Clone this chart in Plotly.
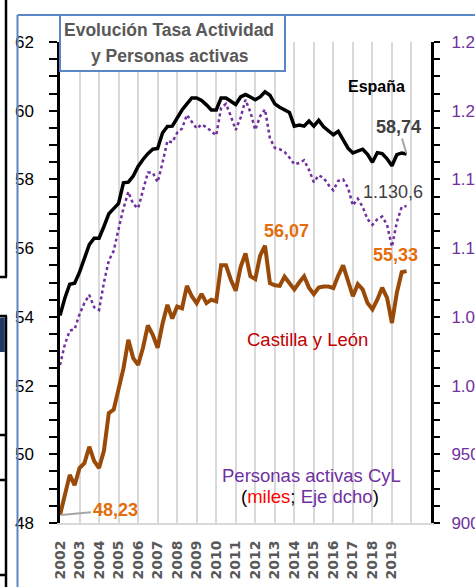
import plotly.graph_objects as go

# ---- data (quarterly, 2002Q1 .. 2019Q4) ----
years = [str(y) for y in range(2002, 2020)]
quarters = list(range(72))

espana = [54.04, 54.55, 54.95, 54.98, 55.30, 55.70, 56.10, 56.29, 56.29, 56.63,
          57.00, 57.15, 57.30, 57.90, 57.92, 58.10, 58.38, 58.58, 58.75, 58.88,
          58.90, 59.35, 59.54, 59.55, 59.80, 60.02, 60.20, 60.37, 60.37, 60.30,
          60.17, 60.02, 60.02, 60.37, 60.37, 60.27, 60.18, 60.40, 60.47, 60.40,
          60.32, 60.40, 60.55, 60.45, 60.20, 60.10, 60.03, 59.95, 59.55, 59.58,
          59.55, 59.70, 59.55, 59.72, 59.53, 59.43, 59.30, 59.40, 59.16, 58.91,
          58.77, 58.82, 58.88, 58.73, 58.50, 58.78, 58.75, 58.60, 58.40, 58.72,
          58.77, 58.74]

cyl = [48.23, 48.80, 49.40, 49.10, 49.60, 49.74, 50.22, 49.80, 49.60, 50.10,
       51.20, 51.30, 51.85, 52.50, 53.33, 52.80, 52.60, 53.10, 53.75, 53.48,
       53.10, 53.80, 54.35, 53.95, 54.30, 54.25, 54.90, 54.60, 54.40, 54.67,
       54.40, 54.50, 54.45, 55.50, 55.50, 55.08, 54.76, 55.45, 55.85, 55.18,
       55.10, 55.78, 56.07, 54.98, 54.92, 54.90, 55.17, 54.97, 54.80, 55.00,
       55.18, 54.85, 54.66, 54.85, 54.88, 54.88, 54.84, 55.20, 55.50, 55.05,
       54.60, 54.95, 54.80, 54.40, 54.22, 54.50, 54.85, 54.55, 53.82, 54.70,
       55.30, 55.33]

activos = [1015, 1030, 1040, 1041, 1052, 1060, 1066, 1057, 1055, 1075,
           1091, 1098, 1114, 1129, 1141, 1132, 1129, 1142, 1155, 1155,
           1148, 1162, 1178, 1177, 1184, 1187, 1197, 1192, 1187, 1190,
           1188, 1185, 1182, 1202, 1205, 1196, 1186, 1195, 1208, 1199,
           1186, 1196, 1201, 1180, 1173, 1172, 1170, 1166, 1161, 1162,
           1164, 1157, 1148, 1153, 1151, 1146, 1142, 1149, 1150, 1144,
           1131, 1136, 1130, 1121, 1117, 1121, 1123, 1117, 1101, 1119,
           1130, 1130.6]

left_ticks = [48, 50, 52, 54, 56, 58, 60, 62]
right_ticks = [900, 950, 1000, 1050, 1100, 1150, 1200, 1250]
grid_ticks = [50, 52, 54, 56, 58, 60]
x_tickvals = list(range(0, 77, 4))
x_ticktext = years + ["", ""]

# ---- layout geometry (pixels) ----
W, H = 475, 587
L, R, T, B = 60, 44, 42, 64
PW, PH = W - L - R, H - T - B


def px(xp):
    return (xp - L) / PW


def py(yp):
    return (H - B - yp) / PH


PURPLE = "#7030a0"
BROWN = "#9a4a08"
ORANGE = "#e46c0a"
GRAY_TXT = "#404040"
BLUE = "#5b86c5"
FONT = "Liberation Sans"

fig = go.Figure()

fig.add_trace(go.Scatter(x=quarters, y=espana, mode="lines", yaxis="y",
                         line=dict(color="black", width=3.5), hoverinfo="skip",
                         showlegend=False))
fig.add_trace(go.Scatter(x=quarters, y=cyl, mode="lines", yaxis="y",
                         line=dict(color=BROWN, width=4), hoverinfo="skip",
                         showlegend=False))
fig.add_trace(go.Scatter(x=quarters, y=activos, mode="lines", yaxis="y2",
                         line=dict(color=PURPLE, width=2.5, dash="dot"),
                         hoverinfo="skip", showlegend=False))

shapes = []
# outer frame (blue)
shapes.append(dict(type="line", xref="paper", yref="paper",
                   x0=px(17.5), x1=px(476), y0=py(15), y1=py(15),
                   line=dict(color=BLUE, width=2)))
shapes.append(dict(type="line", xref="paper", yref="paper",
                   x0=px(17.5), x1=px(17.5), y0=py(15), y1=py(588),
                   line=dict(color=BLUE, width=2)))
# title box
shapes.append(dict(type="rect", xref="paper", yref="paper",
                   x0=px(60), x1=px(285), y0=py(71), y1=py(15),
                   line=dict(color=BLUE, width=2), fillcolor="white", layer="above"))
# black edge artifacts on the far left
for (x0, y0, x1, y1) in [(6, -1, 6, 277), (-1, 277, 7, 277), (-1, 316, 7, 316),
                         (6, 316, 6, 588), (-1, 435, 6, 435), (-1, 480, 6, 480),
                         (-1, 575, 6, 575)]:
    shapes.append(dict(type="line", xref="paper", yref="paper",
                       x0=px(x0), x1=px(x1), y0=py(y0), y1=py(y1),
                       line=dict(color="black", width=2.5)))
shapes.append(dict(type="rect", xref="paper", yref="paper",
                   x0=px(-1), x1=px(4.8), y0=py(352), y1=py(317.5),
                   line=dict(width=0), fillcolor="#1f3864"))


def paper_label(x, y, text, size, color):
    return dict(xref="paper", yref="paper", x=px(x), y=py(y), text=text,
                showarrow=False, xanchor="center", yanchor="middle",
                font=dict(family=FONT, size=size, color=color))


annotations = [
    paper_label(169, 30.5, "<b>Evolución Tasa Actividad</b>", 17.5, "#595959"),
    paper_label(170, 56, "<b>y Personas activas</b>", 17.5, "#595959"),
    paper_label(376, 86, "<b>España</b>", 16, "black"),
    paper_label(307.5, 340, "Castilla y León", 18.5, "#c00000"),
    paper_label(311, 475, "Personas activas CyL", 18.5, PURPLE),
    paper_label(310, 496.5,
                "(<span style='color:#ff0000'>miles</span>; "
                "<span style='color:#7030a0'>Eje dcho</span>)", 18.5, "black"),
    # value labels
    dict(x=quarters[-1], y=espana[-1], xref="x", yref="y",
         text="<b>58,74</b>", showarrow=True, arrowhead=0, arrowwidth=2,
         arrowcolor="#a6a6a6", ax=-8, ay=-27, standoff=1,
         font=dict(family=FONT, size=18, color=GRAY_TXT)),
    dict(x=quarters[-1], y=activos[-1], xref="x", yref="y2",
         text="1.130,6", showarrow=False, xshift=-14, yshift=14,
         xanchor="center", yanchor="middle",
         font=dict(family=FONT, size=18, color=GRAY_TXT)),
    dict(x=quarters[42], y=cyl[42], xref="x", yref="y",
         text="<b>56,07</b>", showarrow=False, xshift=21, yshift=15,
         xanchor="center", yanchor="middle",
         font=dict(family=FONT, size=18, color=ORANGE)),
    dict(x=quarters[-1], y=cyl[-1], xref="x", yref="y",
         text="<b>55,33</b>", showarrow=False, xshift=-11, yshift=16,
         xanchor="center", yanchor="middle",
         font=dict(family=FONT, size=18, color=ORANGE)),
    dict(x=quarters[0], y=cyl[0], xref="x", yref="y",
         text="<b>48,23</b>", showarrow=True, arrowhead=0, arrowwidth=2,
         arrowcolor="#a6a6a6", ax=55, ay=-5, standoff=1,
         font=dict(family=FONT, size=18, color=ORANGE)),
]

fig.update_layout(
    template="none",
    width=W, height=H,
    margin=dict(l=L, r=R, t=T, b=B, pad=0),
    paper_bgcolor="white", plot_bgcolor="white",
    separators=",.",
    showlegend=False,
    shapes=shapes,
    annotations=annotations,
    xaxis=dict(range=[0, 76], tickmode="array", tickvals=x_tickvals,
               ticktext=x_ticktext, tickangle=-90, ticks="",
               showgrid=True, gridcolor="#d9d9d9", gridwidth=2,
               showline=True, linecolor="#d9d9d9", linewidth=2,
               zeroline=False, automargin=False, ticklabelstandoff=10,
               tickfont=dict(family="DejaVu Sans", size=14, color="#595959",
                             weight="bold")),
    yaxis=dict(range=[48, 62], tickmode="array", tickvals=left_ticks,
               ticks="outside", ticklen=8, tickwidth=2, tickcolor="black",
               showline=True, linecolor="black", linewidth=2.5,
               showgrid=False, zeroline=False, automargin=False,
               ticklabelstandoff=12,
               tickfont=dict(family=FONT, size=17, color="black"),
               minor=dict(tick0=48, dtick=0.5, ticks="outside", ticklen=8,
                          tickwidth=2, tickcolor="black", showgrid=False)),
    yaxis2=dict(range=[900, 1250], overlaying="y", side="right",
                tickmode="array", tickvals=right_ticks, tickformat=",d",
                ticks="outside", ticklen=6, tickwidth=2, tickcolor="black",
                showline=True, linecolor="black", linewidth=3,
                showgrid=False, zeroline=False, automargin=False,
                ticklabelstandoff=8,
                tickfont=dict(family=FONT, size=17, color=PURPLE),
                minor=dict(tick0=900, dtick=12.5, ticks="outside", ticklen=6,
                           tickwidth=2, tickcolor="black", showgrid=False)),
    yaxis3=dict(range=[48, 62], overlaying="y", side="left",
                tickmode="array", tickvals=grid_ticks, showticklabels=False,
                ticks="", showgrid=True, gridcolor="#d9d9d9", gridwidth=2,
                showline=False, zeroline=False, automargin=False),
)

# remove the default 8px page margin so the figure fills the window exactly
fig.write_html(
    "out.html",
    config={"displayModeBar": False},
    post_script="document.body.style.margin='0';document.body.style.overflow='hidden';",
)
